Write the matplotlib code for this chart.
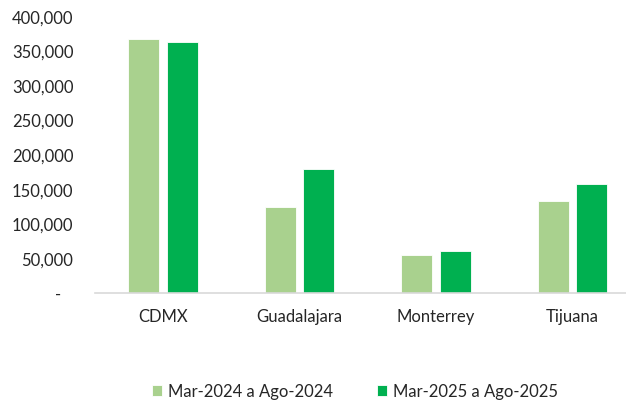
import matplotlib
matplotlib.use("Agg")
import matplotlib.pyplot as plt
import numpy as np
from matplotlib.ticker import FuncFormatter

categories = ["CDMX", "Guadalajara", "Monterrey", "Tijuana"]
series_names = ["Mar-2024 a Ago-2024", "Mar-2025 a Ago-2025"]
values_2024 = [368000, 125000, 55000, 133000]
values_2025 = [364000, 180000, 61500, 158000]
colors = ["#A9D18E", "#00B050"]

plt.rcParams['font.family'] = ['Lato', 'DejaVu Sans']

fig = plt.figure(figsize=(6.26, 4.01), dpi=100)
ax = fig.add_axes([95/626, 1-293.3/401, 1-95/626, (293.3-17)/401])

x = np.arange(len(categories))
w = 0.227
off = 0.141
ax.bar(x - off, values_2024, width=w, color=colors[0], label=series_names[0],
       edgecolor="white", linewidth=0.6)
ax.bar(x + off, values_2025, width=w, color=colors[1], label=series_names[1],
       edgecolor="white", linewidth=0.6)

ax.set_ylim(0, 400000)
ax.set_xlim(-0.5, -0.5 + 531/136.4)
ax.set_yticks(np.arange(0, 400001, 50000))
ax.yaxis.set_major_formatter(FuncFormatter(lambda v, p: "-   " if v == 0 else f"{int(v):,}"))
ax.set_xticks(x)
ax.set_xticklabels(categories)

for s in ["top", "right", "left"]:
    ax.spines[s].set_visible(False)
ax.spines["bottom"].set_color("#D9D9D9")
ax.spines["bottom"].set_linewidth(1.2)
ax.tick_params(axis="both", length=0, labelsize=12, colors="#262626")
ax.tick_params(axis="y", pad=15.5)
ax.tick_params(axis="x", pad=11)

leg = fig.legend(loc="center", bbox_to_anchor=(355/626, 1-391.5/401), ncol=2,
                 frameon=False, fontsize=12, handlelength=0.6, handleheight=0.6,
                 handletextpad=0.4, columnspacing=2.6)
for t in leg.get_texts():
    t.set_color("#262626")

fig.savefig("out.png", dpi=100)
